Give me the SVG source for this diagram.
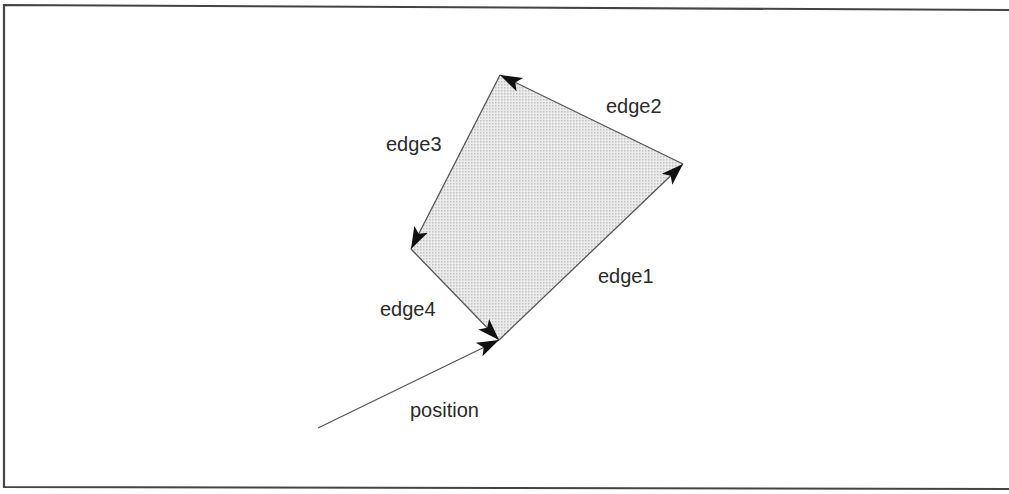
<svg xmlns="http://www.w3.org/2000/svg" width="1009" height="494" viewBox="0 0 1009 494">
<defs>
<marker id="ah" markerUnits="userSpaceOnUse" markerWidth="24" markerHeight="18" viewBox="0 0 24 18" refX="22" refY="9" orient="auto">
<path d="M0,1.5 L22,9 L0,16.5 L5,9 Z" fill="#111"/>
</marker>
<pattern id="dots" width="3" height="3" patternUnits="userSpaceOnUse">
<rect width="3" height="3" fill="#ebebeb"/>
<rect width="1.5" height="1.5" fill="#c4c4c4"/>
</pattern>
</defs>
<style>
.frame{fill:none;stroke:#444;stroke-width:2.2}
.edge{fill:none;stroke:#555;stroke-width:1.3;marker-end:url(#ah)}
.lbl{font-family:"Liberation Sans",Arial,sans-serif;font-size:20px;fill:#2a2a2a}
</style>
<rect width="1009" height="494" fill="#fff"/>
<g id="frame">
<path class="frame" d="M1009,10 L4,5 L4,487 L1009,489"/>
</g>
<g id="shape">
<polygon points="499,340 683,164 500,75 411,249" fill="url(#dots)"/>
</g>
<g id="connectors">
<line class="edge" x1="499" y1="340" x2="683" y2="164"/>
<line class="edge" x1="683" y1="164" x2="500" y2="75"/>
<line class="edge" x1="500" y1="75" x2="411" y2="249"/>
<line class="edge" x1="411" y1="249" x2="499" y2="340"/>
<line class="edge" x1="318" y1="428" x2="499" y2="340"/>
</g>
<g id="labels">
<text class="lbl" x="606" y="113">edge2</text>
<text class="lbl" x="386" y="151">edge3</text>
<text class="lbl" x="598" y="283">edge1</text>
<text class="lbl" x="380" y="316">edge4</text>
<text class="lbl" x="410" y="417">position</text>
</g>
</svg>
